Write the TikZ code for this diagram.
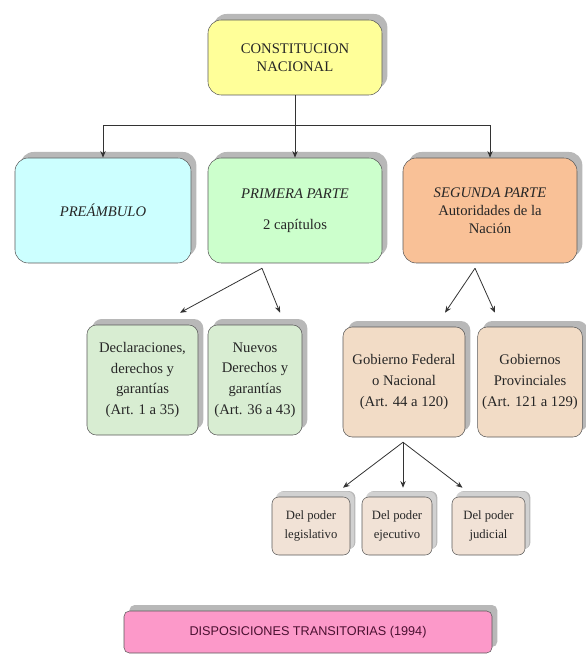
\documentclass[tikz,border=0pt]{standalone}
\usepackage{fontspec}
\setmainfont{Liberation Serif}
\newfontfamily\dispfont{Liberation Sans}
\usepackage{tikz}
\usetikzlibrary{calc,positioning,shadows,arrows.meta}
\definecolor{cnyellow}{HTML}{FFFF99}
\definecolor{precyan}{HTML}{CCFFFF}
\definecolor{prigreen}{HTML}{CCFFCC}
\definecolor{segorange}{HTML}{F9C197}
\definecolor{lowgreen}{HTML}{D8EDD2}
\definecolor{lowpeach}{HTML}{F2DCC6}
\definecolor{smallpeach}{HTML}{F1E2D6}
\definecolor{disppink}{HTML}{FC99C9}
\definecolor{disptext}{HTML}{4A1030}
\tikzstyle{box}      = [draw=black!65, rounded corners=10pt, align=center, text=black!85, general shadow={fill=black!28, shadow xshift=4pt, shadow yshift=4.5pt}]
\tikzstyle{bigbox}   = [box, font=\fontsize{11}{13.5}\selectfont]
\tikzstyle{midbox}   = [box, rounded corners=7pt, font=\fontsize{11}{15.5}\selectfont]
\tikzstyle{smallbox} = [box, rounded corners=5pt, font=\fontsize{9.5}{14}\selectfont, general shadow={fill=black!18, shadow xshift=3pt, shadow yshift=4pt}]
\tikzstyle{line}     = [draw=black!80, semithick]
\tikzstyle{arrow}    = [line, -{Stealth[length=5pt,width=4pt]}]

\begin{document}
\begin{tikzpicture}[x=0.75pt,y=-0.75pt]
		\useasboundingbox (0,0) rectangle (585,655);

		% top level
		\node[bigbox, fill=cnyellow, minimum width=174*0.75pt, minimum height=75*0.75pt] (cn) at (295,57.5) {CONSTITUCION\\NACIONAL};

		% the three parts
		\node[bigbox, fill=precyan, minimum width=176*0.75pt, minimum height=105*0.75pt] (pre) at (103,210.5) {\textit{PREÁMBULO}};
		\node[bigbox, fill=prigreen, minimum width=174*0.75pt, minimum height=105*0.75pt] (pri) at (295,210.5) {\textit{PRIMERA PARTE}\\[10pt]2 capítulos};
		\node[bigbox, fill=segorange, minimum width=174*0.75pt, minimum height=105*0.75pt] (seg) at (490,210.5) {\textit{SEGUNDA PARTE}\\Autoridades de la\\Nación};

		% primera parte
		\node[midbox, fill=lowgreen, minimum width=111*0.75pt, minimum height=110*0.75pt] (dec) at (142.5,380) {Declaraciones,\\derechos y\\garantías\\(Art. 1 a 35)};
		\node[midbox, fill=lowgreen, minimum width=94*0.75pt, minimum height=110*0.75pt] (nue) at (255,380) {Nuevos\\Derechos y\\garantías\\(Art. 36 a 43)};

		% segunda parte
		\node[midbox, fill=lowpeach, minimum width=122*0.75pt, minimum height=110*0.75pt] (gob) at (404,382) {Gobierno Federal\\o Nacional\\(Art. 44 a 120)};
		\node[midbox, fill=lowpeach, minimum width=104*0.75pt, minimum height=110*0.75pt] (prov) at (530,382) {Gobiernos\\Provinciales\\(Art. 121 a 129)};

		% poderes
		\node[smallbox, fill=smallpeach, minimum width=78*0.75pt, minimum height=58*0.75pt] (leg) at (311,526) {Del poder\\legislativo};
		\node[smallbox, fill=smallpeach, minimum width=70*0.75pt, minimum height=58*0.75pt] (eje) at (397,526) {Del poder\\ejecutivo};
		\node[smallbox, fill=smallpeach, minimum width=73*0.75pt, minimum height=58*0.75pt] (jud) at (488.5,526) {Del poder\\judicial};

		% disposiciones
		\node[box, rounded corners=4pt, fill=disppink, text=disptext, minimum width=368*0.75pt, minimum height=42*0.75pt, font=\dispfont\fontsize{9.5}{11}\selectfont] (disp) at (308,632) {DISPOSICIONES TRANSITORIAS (1994)};

		% connectors
		\coordinate (bus) at ($(cn.south)+(0,30)$);
		\draw[line] (cn.south) -- (bus);
		\draw[arrow] (bus) -| (pre.north);
		\draw[arrow] (bus) -- (pri.north);
		\draw[arrow] (bus) -| (seg.north);

		\coordinate (prifork) at ($(pri.south)+(-33,5)$);
		\draw[arrow] (prifork) -- ($(dec.north)+(37.5,-12)$);
		\draw[arrow] (prifork) -- ($(nue.north)+(25,-12)$);

		\coordinate (segfork) at ($(seg.south)+(-15,5)$);
		\draw[arrow] (segfork) -- ($(gob.north)+(41,-14)$);
		\draw[arrow] (segfork) -- ($(prov.north)+(-35,-14)$);

		\coordinate (gobfork) at ($(gob.south)+(-1,5)$);
		\draw[arrow] (gobfork) -- ($(leg.north)+(32,-9)$);
		\draw[arrow] (gobfork) -- ($(eje.north)+(6,-9)$);
		\draw[arrow] (gobfork) -- ($(jud.north)+(-26,-9)$);
	\end{tikzpicture}
\end{document}
